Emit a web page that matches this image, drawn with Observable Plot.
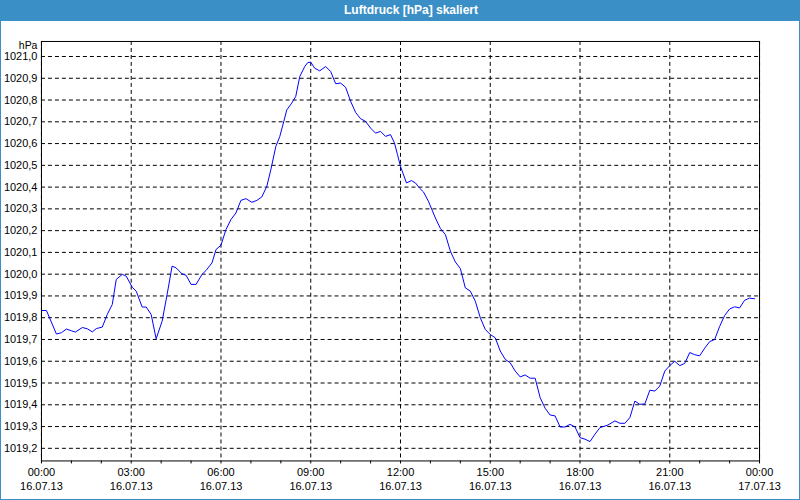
<!DOCTYPE html>
<html>
<head>
<meta charset="utf-8">
<script src="https://cdn.jsdelivr.net/npm/d3@7"></script>
<script src="https://cdn.jsdelivr.net/npm/@observablehq/plot@0.6"></script>
<style>
  html, body { margin: 0; padding: 0; background: #fff; }
  #wrap { position: relative; width: 800px; height: 500px; box-sizing: border-box; border: 1px solid #3b8fc7; background: #fff; overflow: hidden; }
  #title { position: absolute; left: -1px; top: -1px; width: 800px; height: 21px; background: #3b8fc7; color: #fff;
           font: bold 12px "Liberation Sans", Arial, sans-serif; line-height: 21px; text-align: center; box-sizing: border-box; padding-left: 22px; }
  #chart { position: absolute; left: -1px; top: 20px; }
</style>
</head>
<body>
<div id="wrap">
  <div id="title">Luftdruck [hPa] skaliert</div>
  <div id="chart"></div>
</div>
<script>
// time in minutes since 16.07.13 00:00
const minutes = [0,10,30,40,50,60,68,82,92,102,110,122,132,142,150,162,170,182,190,202,210,220,230,242,252,262,270,282,290,300,310,322,330,342,350,360,370,380,390,400,410,422,432,442,452,460,470,478,486,492,502,510,518,528,534,540,548,558,570,580,590,600,610,620,630,640,650,660,670,680,690,700,708,714,720,732,742,750,758,766,776,790,800,810,820,830,840,850,860,870,880,890,900,910,920,930,940,950,960,970,980,990,1000,1010,1020,1030,1040,1050,1060,1070,1080,1090,1100,1110,1120,1136,1150,1160,1170,1180,1190,1200,1210,1220,1230,1240,1250,1260,1270,1280,1290,1300,1310,1320,1330,1340,1350,1360,1370,1380,1390,1400,1410,1420,1430];
// air pressure in hPa
const pressure = [1019.833,1019.833,1019.725,1019.731,1019.748,1019.740,1019.734,1019.755,1019.749,1019.735,1019.750,1019.757,1019.815,1019.861,1019.976,1019.999,1019.991,1019.940,1019.922,1019.849,1019.849,1019.815,1019.703,1019.784,1019.907,1020.037,1020.029,1020.001,1019.995,1019.953,1019.953,1019.999,1020.017,1020.052,1020.113,1020.133,1020.205,1020.251,1020.281,1020.339,1020.347,1020.330,1020.339,1020.355,1020.404,1020.480,1020.587,1020.633,1020.702,1020.755,1020.786,1020.817,1020.908,1020.954,1020.972,1020.974,1020.946,1020.934,1020.954,1020.931,1020.875,1020.878,1020.858,1020.794,1020.743,1020.714,1020.702,1020.671,1020.648,1020.656,1020.633,1020.641,1020.602,1020.549,1020.495,1020.419,1020.430,1020.419,1020.396,1020.378,1020.335,1020.258,1020.210,1020.182,1020.106,1020.056,1020.026,1019.937,1019.922,1019.876,1019.800,1019.746,1019.723,1019.708,1019.647,1019.609,1019.593,1019.555,1019.528,1019.537,1019.522,1019.522,1019.433,1019.384,1019.353,1019.349,1019.298,1019.298,1019.310,1019.298,1019.249,1019.242,1019.231,1019.265,1019.295,1019.307,1019.326,1019.315,1019.315,1019.341,1019.417,1019.402,1019.404,1019.467,1019.463,1019.486,1019.555,1019.580,1019.600,1019.580,1019.590,1019.640,1019.630,1019.625,1019.660,1019.690,1019.700,1019.760,1019.810,1019.840,1019.850,1019.845,1019.880,1019.890,1019.887];

const yTicks = [1019.2,1019.3,1019.4,1019.5,1019.6,1019.7,1019.8,1019.9,1020.0,1020.1,1020.2,1020.3,1020.4,1020.5,1020.6,1020.7,1020.8,1020.9,1021.0];
const majorX = [0,180,360,540,720,900,1080,1260,1440];
const timeLabels = ["00:00","03:00","06:00","09:00","12:00","15:00","18:00","21:00","00:00"];
const dateLabels = ["16.07.13","16.07.13","16.07.13","16.07.13","16.07.13","16.07.13","16.07.13","16.07.13","17.07.13"];
const hourTicks = d3.range(0, 1441, 60);

const data = minutes.map((m, i) => ({m, p: pressure[i]}));
const gridStyle = {stroke: "#000", strokeOpacity: 1, strokeWidth: 1, strokeDasharray: "4,3"};

const chart = Plot.plot({
  width: 800,
  height: 480,
  marginTop: 20,
  marginBottom: 40,
  marginLeft: 41,
  marginRight: 40,
  style: {fontFamily: "'Liberation Sans', Arial, sans-serif", fontSize: "11px", background: "transparent", color: "#000"},
  x: {domain: [0, 1440], label: null},
  y: {domain: [1019.142, 1021.069], label: null},
  marks: [
    Plot.gridY(yTicks, gridStyle),
    Plot.gridX(majorX, gridStyle),
    Plot.axisY(yTicks, {tickSize: 0, tickPadding: 4, label: null, tickFormat: d => d.toFixed(1).replace(".", ",")}),
    Plot.axisX(hourTicks, {tickSize: 3, label: null, tickFormat: () => ""}),
    Plot.text(majorX, {x: d => d, frameAnchor: "bottom", dy: 15, text: (d, i) => timeLabels[i]}),
    Plot.text(majorX, {x: d => d, frameAnchor: "bottom", dy: 29, text: (d, i) => dateLabels[i]}),
    Plot.text(["hPa"], {frameAnchor: "top-left", dx: -4, dy: 0, fontSize: 10.5, textAnchor: "end", text: d => d}),
    Plot.line(data, {x: "m", y: "p", stroke: "#0000ff", strokeWidth: 1}),
    Plot.frame({stroke: "#000"})
  ]
});
document.getElementById("chart").appendChild(chart);
</script>
</body>
</html>
